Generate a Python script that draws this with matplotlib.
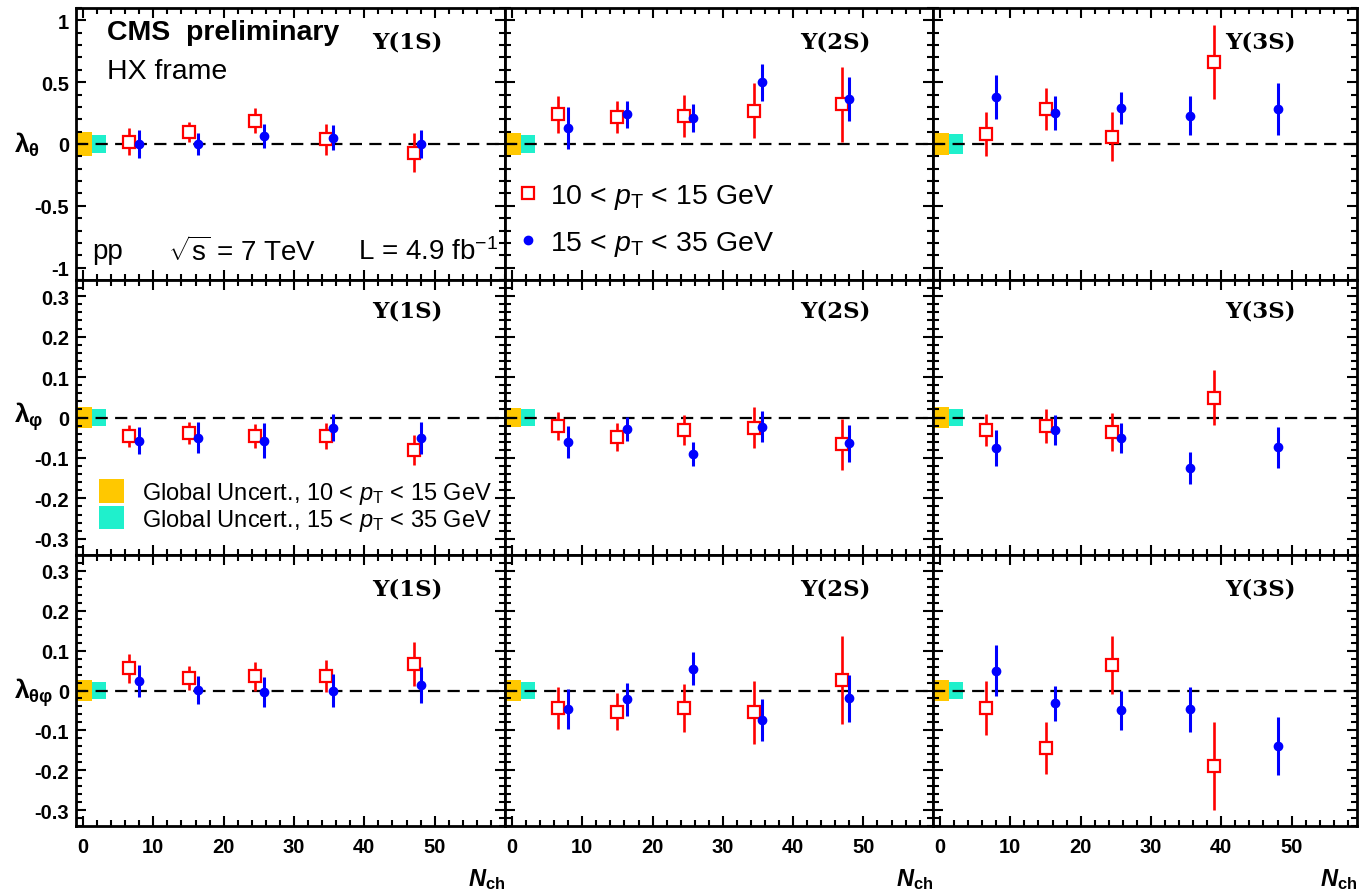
import matplotlib
matplotlib.use("Agg")
import matplotlib.pyplot as plt
from matplotlib.ticker import MultipleLocator, FixedLocator, FuncFormatter
from matplotlib.patches import Patch
from matplotlib.lines import Line2D

plt.rcParams["font.family"] = ["Liberation Sans", "DejaVu Sans"]
plt.rcParams["mathtext.fontset"] = "custom"
plt.rcParams["mathtext.rm"] = "Liberation Sans"
plt.rcParams["mathtext.it"] = "Liberation Sans:italic"
plt.rcParams["mathtext.bf"] = "Liberation Sans:bold"
try:
    plt.rcParams["mathtext.bfit"] = "Liberation Sans:italic:bold"
except KeyError:
    pass
plt.rcParams["axes.unicode_minus"] = False

# ---------------------------------------------------------------- data
# N_ch bin positions for the two pT ranges
nch_lo = [6.5, 15.0, 24.5, 34.5, 47.0]      # 10 < pT < 15 GeV
nch_hi = [8.0, 16.3, 25.7, 35.5, 48.0]      # 15 < pT < 35 GeV
nch_lo_3s = [6.5, 15.0, 24.5, 39.0]         # Y(3S), 10 < pT < 15 GeV

# lambda_theta
lth_1s_lo = [0.02, 0.10, 0.19, 0.04, -0.07]
lth_1s_lo_err = [0.11, 0.08, 0.10, 0.125, 0.16]
lth_1s_hi = [0.0, 0.0, 0.065, 0.05, 0.0]
lth_1s_hi_err = [0.11, 0.09, 0.10, 0.10, 0.11]
lth_2s_lo = [0.24, 0.22, 0.23, 0.27, 0.32]
lth_2s_lo_err = [0.15, 0.13, 0.17, 0.22, 0.30]
lth_2s_hi = [0.13, 0.24, 0.21, 0.50, 0.365]
lth_2s_hi_err = [0.17, 0.11, 0.11, 0.15, 0.18]
lth_3s_lo = [0.08, 0.28, 0.06, 0.66]
lth_3s_lo_err = [0.18, 0.17, 0.20, 0.30]
lth_3s_hi = [0.38, 0.25, 0.29, 0.23, 0.28]
lth_3s_hi_err = [0.18, 0.14, 0.13, 0.16, 0.21]

# lambda_phi
lph_1s_lo = [-0.046, -0.038, -0.046, -0.045, -0.080]
lph_1s_lo_err = [0.028, 0.027, 0.030, 0.032, 0.037]
lph_1s_hi = [-0.057, -0.050, -0.057, -0.025, -0.050]
lph_1s_hi_err = [0.033, 0.038, 0.043, 0.033, 0.040]
lph_2s_lo = [-0.021, -0.048, -0.031, -0.025, -0.066]
lph_2s_lo_err = [0.035, 0.035, 0.038, 0.050, 0.063]
lph_2s_hi = [-0.061, -0.028, -0.090, -0.023, -0.064]
lph_2s_hi_err = [0.040, 0.030, 0.030, 0.038, 0.045]
lph_3s_lo = [-0.031, -0.021, -0.036, 0.049]
lph_3s_lo_err = [0.040, 0.042, 0.047, 0.068]
lph_3s_hi = [-0.076, -0.031, -0.051, -0.125, -0.074]
lph_3s_hi_err = [0.045, 0.036, 0.037, 0.040, 0.050]

# lambda_theta_phi
ltp_1s_lo = [0.056, 0.031, 0.036, 0.036, 0.066]
ltp_1s_lo_err = [0.036, 0.030, 0.036, 0.040, 0.055]
ltp_1s_hi = [0.023, 0.002, -0.004, 0.0, 0.013]
ltp_1s_hi_err = [0.040, 0.035, 0.037, 0.041, 0.045]
ltp_2s_lo = [-0.043, -0.053, -0.043, -0.055, 0.027]
ltp_2s_lo_err = [0.053, 0.047, 0.060, 0.080, 0.110]
ltp_2s_hi = [-0.047, -0.022, 0.055, -0.074, -0.020]
ltp_2s_hi_err = [0.050, 0.042, 0.042, 0.052, 0.058]
ltp_3s_lo = [-0.043, -0.145, 0.063, -0.190]
ltp_3s_lo_err = [0.068, 0.065, 0.073, 0.110]
ltp_3s_hi = [0.050, -0.032, -0.050, -0.047, -0.140]
ltp_3s_hi_err = [0.063, 0.044, 0.048, 0.056, 0.073]

# global (scale) uncertainties, half widths, per state
glob_lth_lo = [0.095, 0.09, 0.09]
glob_lth_hi = [0.07, 0.07, 0.078]
glob_lph_lo = [0.027, 0.024, 0.025]
glob_lph_hi = [0.022, 0.022, 0.022]
glob_ltp_lo = [0.026, 0.026, 0.026]
glob_ltp_hi = [0.022, 0.022, 0.022]

states = ["Υ(1S)", "Υ(2S)", "Υ(3S)"]
param_labels = [r"$\mathbf{\lambda}_{\mathbf{\theta}}$",
                r"$\mathbf{\lambda}_{\mathbf{\varphi}}$",
                r"$\mathbf{\lambda}_{\mathbf{\theta\varphi}}$"]
xtick_values = [0, 10, 20, 30, 40, 50]

# ---------------------------------------------------------------- style
RED = "#ff0000"
BLUE = "#0000ff"
ORANGE = "#ffc800"
CYAN = "#1ff0cc"

W, H = 1363, 895
fig = plt.figure(figsize=(W / 100, H / 100), dpi=100)

col_x = [76, 505, 933]
col_w = [429, 428, 424]
col_xmax = [60.0, 59.9, 59.3]
row_y = [9, 281, 556]
row_h = [272, 275, 271]
row_ylim = [(-1.1, 1.1), (-0.34, 0.34), (-0.34, 0.34)]
row_major = [0.5, 0.1, 0.1]
row_minor = [0.1, 0.02, 0.02]
row_label_y = [145, 417, 693]

panels = [
    [(nch_lo, lth_1s_lo, lth_1s_lo_err, lth_1s_hi, lth_1s_hi_err),
     (nch_lo, lth_2s_lo, lth_2s_lo_err, lth_2s_hi, lth_2s_hi_err),
     (nch_lo_3s, lth_3s_lo, lth_3s_lo_err, lth_3s_hi, lth_3s_hi_err)],
    [(nch_lo, lph_1s_lo, lph_1s_lo_err, lph_1s_hi, lph_1s_hi_err),
     (nch_lo, lph_2s_lo, lph_2s_lo_err, lph_2s_hi, lph_2s_hi_err),
     (nch_lo_3s, lph_3s_lo, lph_3s_lo_err, lph_3s_hi, lph_3s_hi_err)],
    [(nch_lo, ltp_1s_lo, ltp_1s_lo_err, ltp_1s_hi, ltp_1s_hi_err),
     (nch_lo, ltp_2s_lo, ltp_2s_lo_err, ltp_2s_hi, ltp_2s_hi_err),
     (nch_lo_3s, ltp_3s_lo, ltp_3s_lo_err, ltp_3s_hi, ltp_3s_hi_err)],
]
glob = [(glob_lth_lo, glob_lth_hi), (glob_lph_lo, glob_lph_hi), (glob_ltp_lo, glob_ltp_hi)]

fmt = FuncFormatter(lambda v, p: "%g" % round(v, 3))
axes = [[None] * 3 for _ in range(3)]

for r in range(3):
    for c in range(3):
        ax = fig.add_axes([col_x[c] / W, 1 - (row_y[r] + row_h[r]) / H,
                           col_w[c] / W, row_h[r] / H])
        axes[r][c] = ax
        xlo, ylo, elo, yhi, ehi = panels[r][c]
        glo, ghi = glob[r][0][c], glob[r][1][c]

        # global uncertainty boxes
        ax.bar(0.15, 2 * glo, bottom=-glo, width=2.3, color=ORANGE, lw=0, zorder=1)
        ax.bar(2.3, 2 * ghi, bottom=-ghi, width=2.0, color=CYAN, lw=0, zorder=1)
        ax.axhline(0, color="black", lw=1.6, ls=(0, (5.5, 3.3)), zorder=2)

        ax.errorbar(xlo, ylo, yerr=elo, fmt="s", ms=9.3, mfc="white", mec=RED,
                    mew=1.6, ecolor=RED, elinewidth=1.9, capsize=0, zorder=4)
        ax.errorbar(nch_hi, yhi, yerr=ehi, fmt="o", ms=6.0, color=BLUE,
                    elinewidth=2.2, capsize=0, zorder=5)

        ax.set_xlim(-1, col_xmax[c])
        ax.set_ylim(*row_ylim[r])
        ax.xaxis.set_major_locator(FixedLocator(xtick_values))
        ax.xaxis.set_minor_locator(MultipleLocator(2))
        ax.yaxis.set_major_locator(MultipleLocator(row_major[r]))
        ax.yaxis.set_minor_locator(MultipleLocator(row_minor[r]))
        ax.yaxis.set_major_formatter(fmt)
        ax.tick_params(which="both", direction="in", top=True, right=True,
                       width=1.5, labelsize=14.5)
        ax.tick_params(which="major", length=7)
        ax.tick_params(which="minor", length=4)
        ax.tick_params(axis="x", pad=8)
        ax.tick_params(axis="y", pad=5)
        for s in ax.spines.values():
            s.set_linewidth(2.0)
        for lab in ax.get_xticklabels() + ax.get_yticklabels():
            lab.set_fontweight("bold")
        if r < 2:
            ax.tick_params(labelbottom=False)
        if c > 0:
            ax.tick_params(labelleft=False)

        ax.text(0.69, 0.875 if r != 1 else 0.89, states[c], transform=ax.transAxes,
                fontsize=16.5, fontweight="bold", family="DejaVu Serif",
                va="center", ha="left", zorder=6)

# axis titles
for r in range(3):
    fig.text(14 / W, 1 - row_label_y[r] / H, param_labels[r], fontsize=19,
             ha="left", va="center")
for c in range(3):
    fig.text((col_x[c] + col_w[c]) / W, 1 - 880 / H,
             r"$\mathbfit{N}_{\mathbf{ch}}$", fontsize=17, ha="right", va="center")

# annotations in the first panel
ax = axes[0][0]
ax.text(0.072, 0.912, "CMS  preliminary", transform=ax.transAxes, fontsize=20.5,
        fontweight="bold", va="center", ha="left")
ax.text(0.072, 0.768, "HX frame", transform=ax.transAxes, fontsize=20.5,
        va="center", ha="left")
ax.text(0.037, 0.107, "pp", transform=ax.transAxes, fontsize=20, va="center", ha="left")
ax.text(0.214, 0.107, r"$\mathbf{\sqrt{\mathrm{s}}}$ = 7 TeV", transform=ax.transAxes,
        fontsize=20, va="center", ha="left")
ax.text(0.984, 0.107, r"L = 4.9 fb$^{\mathregular{-1}}$", transform=ax.transAxes,
        fontsize=20, va="center", ha="right")

# marker legend
ax = axes[0][1]
handles = [Line2D([], [], ls="none", marker="s", ms=9.0, mfc="white", mec=RED, mew=1.6),
           Line2D([], [], ls="none", marker="o", ms=6.0, color=BLUE)]
ax.legend(handles, [r"10 < $p_{\mathrm{T}}$ < 15 GeV", r"15 < $p_{\mathrm{T}}$ < 35 GeV"],
          loc="upper left", bbox_to_anchor=(0.021, 0.36), frameon=False, fontsize=20.5,
          handlelength=0.95, handletextpad=0.3, labelspacing=0.62, borderpad=0,
          borderaxespad=0)

# global uncertainty legend
ax = axes[1][0]
ghandles = [Patch(facecolor=ORANGE, edgecolor="none"), Patch(facecolor=CYAN, edgecolor="none")]
ax.legend(ghandles, [r"Global Uncert., 10 < $p_{\mathrm{T}}$ < 15 GeV",
                     r"Global Uncert., 15 < $p_{\mathrm{T}}$ < 35 GeV"],
          loc="upper left", bbox_to_anchor=(0.054, 0.276), frameon=False, fontsize=17,
          handlelength=1.06, handleheight=1.15, handletextpad=0.76, labelspacing=0.0,
          borderpad=0, borderaxespad=0)

fig.savefig("out.png", dpi=100)
